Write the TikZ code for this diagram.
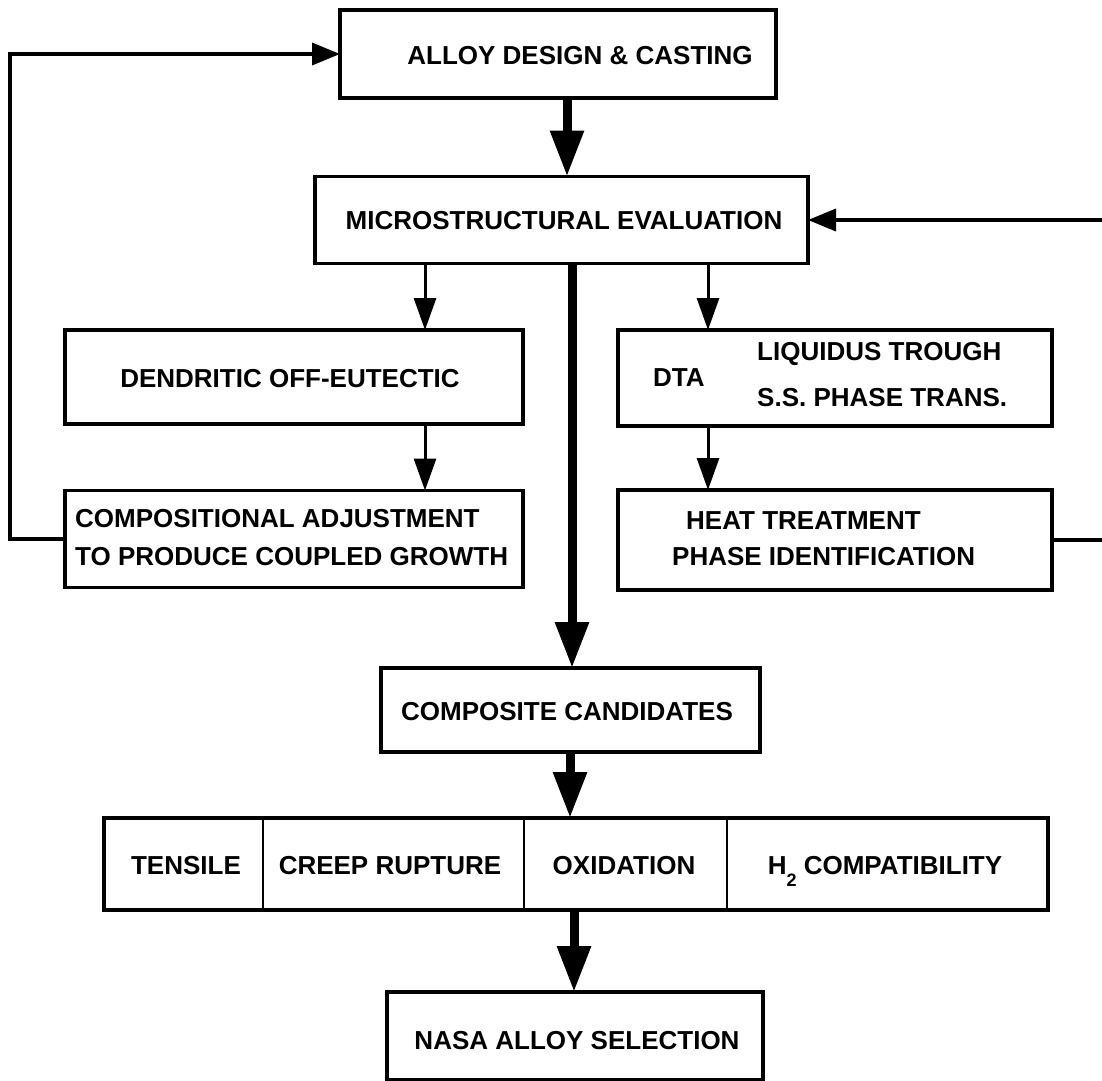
\documentclass[tikz,border=0pt]{standalone}
\usepackage{fontspec}
\setmainfont{Liberation Sans}
\usetikzlibrary{arrows.meta}
\begin{document}
\begin{tikzpicture}[x=1pt,y=-1pt,
  box/.style={draw, line width=3.5pt, inner sep=0pt, outer sep=0pt},
  cell/.style={draw, line width=2pt, inner sep=0pt, outer sep=0pt},
  lbl/.style={font=\fontsize{26}{30}\selectfont\bfseries, inner sep=0pt},
  thinarrow/.style={line width=3pt, -{Triangle[length=32pt,width=22pt]}},
  heavyarrow/.style={line width=9pt, -{Triangle[length=46pt,width=32pt]}},
  feedback/.style={line width=3.5pt, line join=miter, -{Triangle[length=28pt,width=22pt]}}]
\useasboundingbox (0,0) rectangle (1102,1080);

% boxes
\node[box, minimum width=436pt, minimum height=88pt] (alloy) at (558,54) {};
\node[box, minimum width=493pt, minimum height=87pt] (micro) at (561.5,220) {};
\node[box, minimum width=458pt, minimum height=94pt] (dend) at (294,377) {};
\node[box, minimum width=434pt, minimum height=96pt] (dta) at (835,378) {};
\node[box, minimum width=458pt, minimum height=97pt] (comp) at (294,539) {};
\node[box, minimum width=434pt, minimum height=100pt] (heat) at (835,540) {};
\node[box, minimum width=379pt, minimum height=84pt] (cand) at (570.5,710) {};
\node[box, minimum width=376pt, minimum height=88pt] (nasa) at (575,1036) {};

% test row
\node[cell, minimum width=159pt, minimum height=92pt] (tens) at (183.5,864) {};
\node[cell, minimum width=261pt, minimum height=92pt] (creep) at (393.5,864) {};
\node[cell, minimum width=203pt, minimum height=92pt] (oxi) at (625.5,864) {};
\node[cell, minimum width=321pt, minimum height=92pt] (htwo) at (887.5,864) {};
\draw[line width=3.5pt] (tens.north west) rectangle (htwo.south east);

% labels
\node[lbl] (talloy) at (580,56) {ALLOY DESIGN \& CASTING};
\node[lbl] (tmicro) at (564,221) {MICROSTRUCTURAL EVALUATION};
\node[lbl] (tdend) at (290,379) {DENDRITIC OFF-EUTECTIC};
\node[lbl, anchor=west] (tdta) at (653,378) {DTA};
\node[lbl, anchor=west] (tliq) at (757,354) {LIQUIDUS TROUGH};
\node[lbl, anchor=west] (tss) at (757,398) {S.S. PHASE TRANS.};
\node[lbl, anchor=west] (tcomp1) at (75,519) {COMPOSITIONAL ADJUSTMENT};
\node[lbl, anchor=west] (tcomp2) at (75,557) {TO PRODUCE COUPLED GROWTH};
\node[lbl, anchor=west] (theat1) at (686,521) {HEAT TREATMENT};
\node[lbl, anchor=west] (theat2) at (672,557) {PHASE IDENTIFICATION};
\node[lbl] (tcand) at (567,712) {COMPOSITE CANDIDATES};
\node[lbl] (ttens) at (186,866) {TENSILE};
\node[lbl] (tcreep) at (390,866) {CREEP RUPTURE};
\node[lbl] (toxi) at (624,866) {OXIDATION};
\node[lbl] (thtwo) at (885,866) {H\raisebox{-12pt}[0pt][0pt]{\fontsize{18}{18}\selectfont 2} COMPATIBILITY};
\node[lbl] (tnasa) at (577,1041) {NASA ALLOY SELECTION};

% main flow
\draw[heavyarrow] ([xshift=9pt]alloy.south) -- ([xshift=5.5pt]micro.north);
\draw[heavyarrow] ([xshift=10.5pt]micro.south) -- ([xshift=1.5pt]cand.north);
\draw[heavyarrow] ([xshift=-0.5pt]cand.south) -- ([xshift=-55.5pt]oxi.north);
\draw[heavyarrow] ([xshift=-51.5pt]oxi.south) -- ([xshift=-1pt]nasa.north);

% side branches
\draw[thinarrow] ([xshift=-136.5pt]micro.south) -- ([xshift=131pt]dend.north);
\draw[thinarrow] ([xshift=146.5pt]micro.south) -- ([xshift=-127pt]dta.north);
\draw[thinarrow] ([xshift=131pt]dend.south) -- ([xshift=131pt]comp.north);
\draw[thinarrow] ([xshift=-127pt]dta.south) -- ([xshift=-127pt]heat.north);

% feedback loops
\coordinate (loopL) at (10,539);
\coordinate (loopR) at (1107,540);
\draw[feedback] (comp.west) -- (loopL) |- (alloy.west);
\draw[feedback] (heat.east) -- (loopR) |- (micro.east);
\end{tikzpicture}
\end{document}
